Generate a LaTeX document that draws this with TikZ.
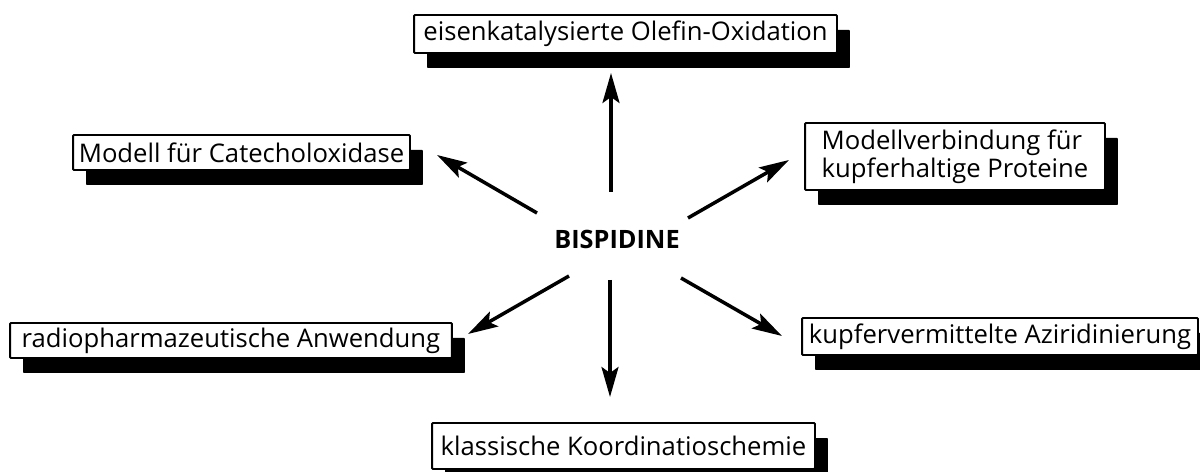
\documentclass[tikz,border=0pt]{standalone}
\usepackage{fontspec}
\setmainfont{Open Sans}
\usetikzlibrary{arrows.meta, shadows}

\tikzset{
    topic/.style={draw, line width=1.1pt, rounded corners=0.5pt, fill=white,
        inner sep=0pt, font=\fontsize{14.6}{14.4}\selectfont,
        drop shadow={shadow xshift=0.26cm, shadow yshift=-0.3cm, fill=black, opacity=1}},
    ray/.style={line width=2pt, -{Stealth[length=0.6cm, width=0.34cm, inset=0.12cm]}}
}

\begin{document}
\begin{tikzpicture}[x=0.02cm, y=-0.02cm]
    \useasboundingbox (0,0) rectangle (1200,472);

    % centre
    \node[font=\fontsize{14.4}{14.4}\selectfont\bfseries] (core) at (617,239) {BISPIDINE};

    % topics round it
    \node[topic, minimum width=8.46cm, minimum height=0.76cm] (olefin) at (625.5,34) {eisenkatalysierte Olefin-Oxidation};
    \node[topic, minimum width=6.74cm, minimum height=0.70cm] (catechol) at (241.5,152.5) {Modell für Catecholoxidase};
    \node[topic, minimum width=6.0cm, minimum height=1.34cm, align=left] (copper) at (955,156.5) {Modellverbindung für\\kupferhaltige Proteine};
    \node[topic, minimum width=8.84cm, minimum height=0.70cm] (radio) at (231,340.5) {radiopharmazeutische Anwendung\hspace{0.18cm}};
    \node[topic, minimum width=7.92cm, minimum height=0.74cm] (aziridine) at (1000,336.5) {kupfervermittelte Aziridinierung};
    \node[topic, minimum width=7.66cm, minimum height=0.92cm] (classic) at (623.5,446) {klassische Koordinatioschemie};

    % arrow ends
    \coordinate (n-s) at (611,192);   \coordinate (n-e) at (611,73);
    \coordinate (nw-s) at (537,213);  \coordinate (nw-e) at (437,155);
    \coordinate (ne-s) at (688,218);  \coordinate (ne-e) at (789,160);
    \coordinate (sw-s) at (569,276);  \coordinate (sw-e) at (468,334);
    \coordinate (se-s) at (681,278);  \coordinate (se-e) at (782,336);
    \coordinate (s-s) at (610,280);   \coordinate (s-e) at (610,397);

    \foreach \d in {n, nw, ne, sw, se, s}
        \draw[ray] (\d-s) -- (\d-e);
\end{tikzpicture}
\end{document}
